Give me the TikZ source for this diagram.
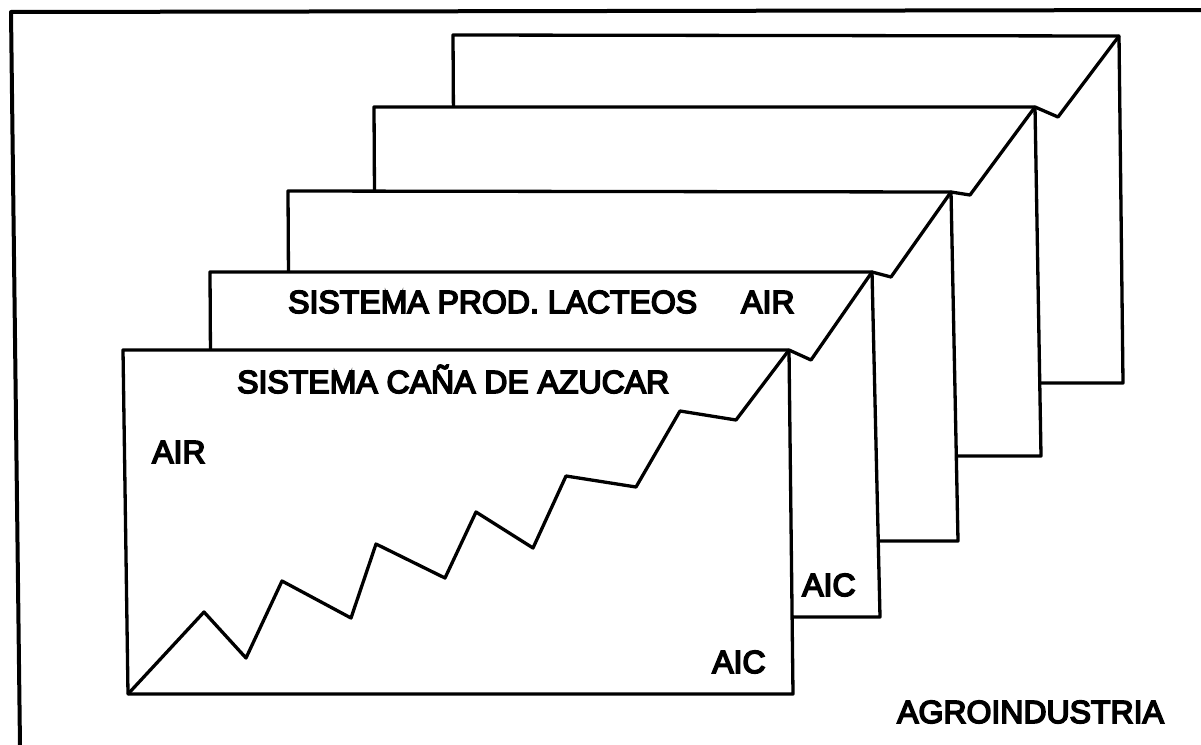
\documentclass[tikz,border=0pt]{standalone}
\usepackage{fontspec}
\newfontfamily\lblfam{Liberation Sans}
\newcommand{\heavyon}{\special{pdf:literal direct 2 Tr 1.6 w}}
\newcommand{\lblfont}{\lblfam\fontsize{32}{38}\selectfont\heavyon}
\begin{document}
\begin{tikzpicture}[x=1pt,y=-1pt,
  frame/.style={line width=4pt, line cap=round, line join=round},
  sheet/.style={line width=3.3pt, fill=white, line join=round},
  zig/.style={line width=3.3pt, line join=round, line cap=round},
  lbl/.style={anchor=base west, inner sep=0pt, font=\lblfont}]
\useasboundingbox (0,0) rectangle (1201,744);
\fill[white] (0,0) rectangle (1201,744);
% outer frame
\coordinate (fBL) at (20,746);
\coordinate (fTL) at (11,12);
\coordinate (fTR) at (1203,10);
\draw[frame] (fBL) -- (fTL) -- (fTR);
% sheets, back to front
\coordinate (r5TL) at (453,35);  \coordinate (r5TR) at (1119,36);  \coordinate (r5BR) at (1123,383); \coordinate (r5BL) at (455,383);
\coordinate (r4TL) at (374,107); \coordinate (r4TR) at (1035,107); \coordinate (r4BR) at (1041,456); \coordinate (r4BL) at (376,456);
\coordinate (r3TL) at (288,191); \coordinate (r3TR) at (951,192);  \coordinate (r3BR) at (958,541); \coordinate (r3BL) at (290,541);
\coordinate (r2TL) at (210,272); \coordinate (r2TR) at (872,272);  \coordinate (r2BR) at (880,617); \coordinate (r2BL) at (212,617);
\coordinate (r1TL) at (123,350); \coordinate (r1TR) at (789,350);  \coordinate (r1BR) at (793,694); \coordinate (r1BL) at (128,694);
\draw[sheet] (r5TL) -- (r5TR) -- (r5BR) -- (r5BL) -- cycle;
\draw[sheet] (r4TL) -- (r4TR) -- (r4BR) -- (r4BL) -- cycle;
\draw[sheet] (r3TL) -- (r3TR) -- (r3BR) -- (r3BL) -- cycle;
\draw[sheet] (r2TL) -- (r2TR) -- (r2BR) -- (r2BL) -- cycle;
\draw[sheet] (r1TL) -- (r1TR) -- (r1BR) -- (r1BL) -- cycle;
% zigzag
\draw[zig] (r1BL) -- (204,612) -- (246,658) -- (282,581) -- (351,618) -- (376,544)
  -- (445,578) -- (476,512) -- (533,548) -- (566,476) -- (636,487) -- (680,411)
  -- (736,420) -- (r1TR) -- (811,360) -- (r2TR) -- (891,277) -- (r3TR)
  -- (970,195) -- (r4TR) -- (1058,117) -- (r5TR);
% labels
\node[lbl] (lac) at (288,313) {SISTEMA PROD. LACTEOS};
\node[lbl] (air2) at (741,313) {AIR};
\node[lbl] (cana) at (237,393) {SISTEMA CAÑA DE AZUCAR};
\node[lbl] (air1) at (152,463) {AIR};
\node[lbl] (aic2) at (802,596) {AIC};
\node[lbl] (aic1) at (712,673) {AIC};
\node[lbl] (agro) at (897,723) {AGROINDUSTRIA};
\end{tikzpicture}
\end{document}
